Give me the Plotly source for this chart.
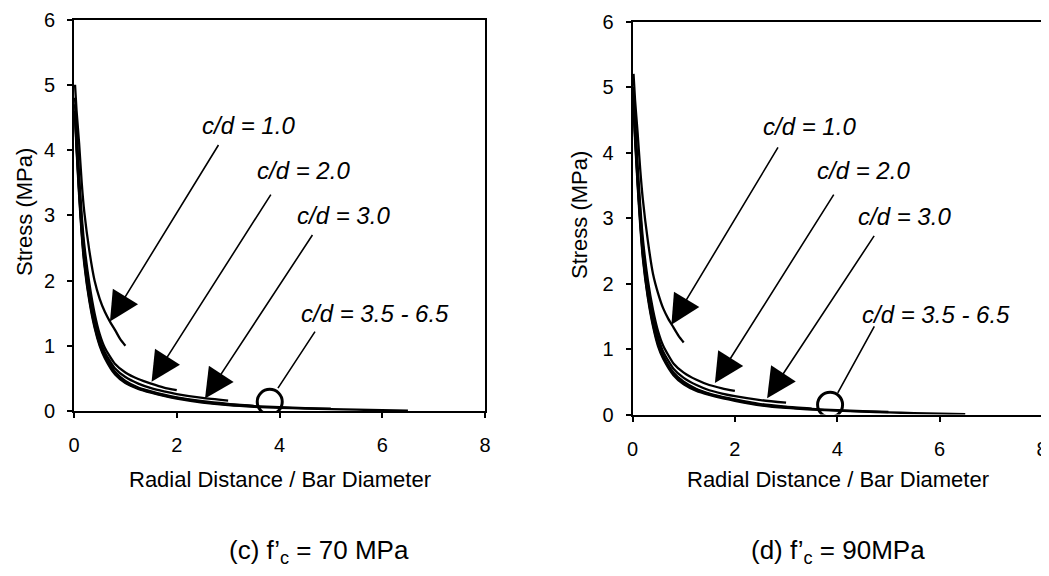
import plotly.graph_objects as go

# ---------------- data ----------------
X_CD10 = [0.02, 0.05, 0.1, 0.15, 0.2, 0.3, 0.4, 0.5, 0.6, 0.7, 0.8, 0.9, 1.0]
X_CD20 = [0.02, 0.05, 0.1, 0.15, 0.2, 0.3, 0.4, 0.5, 0.6, 0.8, 1.0, 1.25, 1.5, 1.75, 2.0]
X_CD30 = X_CD20 + [2.5, 3.0]
X_CD35 = X_CD30 + [3.5]
X_CD50 = X_CD35 + [4.0, 4.5, 5.0]
X_CD65 = X_CD50 + [5.5, 6.0, 6.5]

# (c) f'c = 70 MPa
L_CD10 = [5.0, 4.6, 4.1, 3.5, 3.05, 2.45, 2.0, 1.72, 1.52, 1.37, 1.24, 1.1, 1.0]
L_CD20 = [4.8, 4.3, 3.6, 3.0, 2.55, 1.95, 1.5, 1.18, 0.97, 0.72, 0.59, 0.49, 0.42, 0.36, 0.32]
L_CD30 = [4.7, 4.2, 3.5, 2.9, 2.45, 1.85, 1.42, 1.1, 0.9, 0.65, 0.52, 0.42, 0.35, 0.3, 0.26, 0.2, 0.16]
L_CD35 = [4.6, 4.1, 3.4, 2.8, 2.35, 1.75, 1.35, 1.05, 0.85, 0.6, 0.46, 0.36, 0.3, 0.25, 0.21, 0.15, 0.11, 0.08]
L_CD50 = [4.55, 4.05, 3.35, 2.75, 2.3, 1.71, 1.31, 1.02, 0.83, 0.58, 0.44, 0.35, 0.29, 0.24, 0.2, 0.14, 0.1,
          0.075, 0.06, 0.045, 0.035]
L_CD65 = [4.5, 4.0, 3.3, 2.7, 2.25, 1.68, 1.28, 1.0, 0.81, 0.56, 0.43, 0.34, 0.28, 0.23, 0.19, 0.13, 0.09,
          0.065, 0.05, 0.038, 0.028, 0.02, 0.012, 0.005]

# (d) f'c = 90 MPa
R_CD10 = [5.2, 4.8, 4.3, 3.75, 3.3, 2.65, 2.15, 1.85, 1.62, 1.46, 1.33, 1.2, 1.1]
R_CD20 = [5.0, 4.5, 3.8, 3.2, 2.7, 2.05, 1.6, 1.27, 1.05, 0.78, 0.64, 0.53, 0.45, 0.4, 0.36]
R_CD30 = [4.9, 4.4, 3.7, 3.1, 2.6, 1.95, 1.5, 1.18, 0.96, 0.7, 0.56, 0.45, 0.37, 0.32, 0.28, 0.22, 0.18]
R_CD35 = [4.8, 4.3, 3.6, 3.0, 2.5, 1.85, 1.42, 1.1, 0.9, 0.64, 0.5, 0.39, 0.32, 0.27, 0.23, 0.16, 0.12, 0.09]
R_CD50 = [4.75, 4.25, 3.55, 2.95, 2.45, 1.81, 1.38, 1.07, 0.87, 0.62, 0.48, 0.38, 0.31, 0.26, 0.22, 0.15, 0.11,
          0.085, 0.065, 0.05, 0.038]
R_CD65 = [4.7, 4.2, 3.5, 2.9, 2.4, 1.78, 1.35, 1.04, 0.85, 0.6, 0.46, 0.36, 0.3, 0.25, 0.21, 0.14, 0.1,
          0.075, 0.058, 0.044, 0.032, 0.022, 0.013, 0.005]

X_TICKS = [0, 2, 4, 6, 8]
Y_TICKS = [0, 1, 2, 3, 4, 5, 6]

LABELS = ["c/d = 1.0", "c/d = 2.0", "c/d = 3.0", "c/d = 3.5 - 6.5"]
# label centres (data coords) per panel
L_LABEL_XY = [(3.40, 4.38), (4.47, 3.69), (5.25, 3.00), (5.86, 1.50)]
R_LABEL_XY = [(3.45, 4.40), (4.51, 3.72), (5.31, 3.03), (5.92, 1.53)]
# arrows: (tail x, tail y, head x, head y)
L_ARROWS = [(2.83, 4.10, 0.70, 1.37), (3.85, 3.34, 1.51, 0.45), (4.66, 2.72, 2.55, 0.19)]
R_ARROWS = [(2.86, 4.10, 0.76, 1.37), (3.95, 3.38, 1.61, 0.48), (4.74, 2.75, 2.63, 0.25)]
L_POINTER = (4.71, 1.24, 3.97, 0.35)
R_POINTER = (4.74, 1.37, 4.01, 0.33)
L_CIRCLE = (3.81, 0.14)
R_CIRCLE = (3.86, 0.15)

CAPTIONS = ["(c) f\u2019<sub>c</sub> = 70 MPa", "(d) f\u2019<sub>c</sub> = 90MPa"]

FONT = "Liberation Sans, Arial, sans-serif"
OFF = 8  # page body margin of the browser
W, H = 1049 - OFF, 576 - 2 * OFF


def px(x):
    return (x - OFF) / W


def py(y):
    return (H - (y - OFF)) / H


fig = go.Figure()

panels = [
    ("x", "y", [L_CD10, L_CD20, L_CD30, L_CD35, L_CD50, L_CD65], L_LABEL_XY, L_ARROWS, L_POINTER, L_CIRCLE),
    ("x2", "y2", [R_CD10, R_CD20, R_CD30, R_CD35, R_CD50, R_CD65], R_LABEL_XY, R_ARROWS, R_POINTER, R_CIRCLE),
]
xs = [X_CD10, X_CD20, X_CD30, X_CD35, X_CD50, X_CD65]

annotations = []
for xa, ya, curves, lab_xy, arrows, pointer, circ in panels:
    for xv, yv in zip(xs, curves):
        fig.add_trace(go.Scatter(x=xv, y=yv, xaxis=xa, yaxis=ya, mode="lines",
                                 line=dict(color="black", width=2.3, shape="spline", smoothing=0.6),
                                 showlegend=False, hoverinfo="skip"))
    fig.add_trace(go.Scatter(x=[circ[0]], y=[circ[1]], xaxis=xa, yaxis=ya, mode="markers",
                             marker=dict(symbol="circle-open", size=25, color="black",
                                         line=dict(width=3, color="black")),
                             showlegend=False, hoverinfo="skip"))
    for txt, (tx, ty) in zip(LABELS, lab_xy):
        annotations.append(dict(x=tx, y=ty, xref=xa, yref=ya, text="<i>" + txt + "</i>",
                                xanchor="center", yanchor="middle",
                                showarrow=False, font=dict(family=FONT, size=24, color="black")))
    for (ax_, ay_, hx, hy) in arrows:
        annotations.append(dict(x=hx, y=hy, ax=ax_, ay=ay_, xref=xa, yref=ya, axref=xa, ayref=ya,
                                text="", showarrow=True, arrowhead=2, arrowsize=3.7,
                                arrowwidth=1.6, arrowcolor="black"))
    annotations.append(dict(x=pointer[2], y=pointer[3], ax=pointer[0], ay=pointer[1], xref=xa, yref=ya,
                            axref=xa, ayref=ya, text="", showarrow=True, arrowhead=0,
                            arrowwidth=1.6, arrowcolor="black"))

# axis titles and captions (paper coords)
for cx in [279.5, 838]:
    annotations.append(dict(x=px(cx), y=py(479), xref="paper", yref="paper",
                            xanchor="center", yanchor="middle",
                            text="Radial Distance / Bar Diameter", showarrow=False,
                            font=dict(family=FONT, size=22, color="black")))
for cx, cy in [(24, 212), (579, 215)]:
    annotations.append(dict(x=px(cx), y=py(cy), xref="paper", yref="paper",
                            xanchor="center", yanchor="middle",
                            text="Stress (MPa)", showarrow=False, textangle=-90,
                            font=dict(family=FONT, size=22, color="black")))
for cx, cap in zip([319, 838], CAPTIONS):
    annotations.append(dict(x=px(cx), y=py(551), xref="paper", yref="paper",
                            xanchor="center", yanchor="middle",
                            text=cap, showarrow=False,
                            font=dict(family=FONT, size=26, color="black")))

axis_common = dict(showline=True, mirror=True, linecolor="black", linewidth=2,
                   ticks="outside", ticklen=5, tickwidth=1.5, tickcolor="black",
                   showgrid=False, zeroline=False, automargin=False,
                   ticklabeloverflow="allow",
                   tickfont=dict(family=FONT, size=20, color="black"))

fig.update_layout(
    width=W, height=H,
    margin=dict(l=0, r=0, t=0, b=0, autoexpand=False),
    paper_bgcolor="white", plot_bgcolor="white",
    showlegend=False,
    annotations=annotations,
    xaxis=dict(domain=[px(74), px(485)], range=[0, 8], tickvals=X_TICKS, anchor="y",
               ticklabelstandoff=10, **axis_common),
    yaxis=dict(domain=[py(411), py(19.5)], range=[0, 6], tickvals=Y_TICKS, anchor="x",
               ticklabelstandoff=8, **axis_common),
    xaxis2=dict(domain=[px(632.5), px(1042)], range=[0, 8], tickvals=X_TICKS, anchor="y2",
                ticklabelstandoff=10, **axis_common),
    yaxis2=dict(domain=[py(414.5), py(21.5)], range=[0, 6], tickvals=Y_TICKS, anchor="x2",
                ticklabelstandoff=8, **axis_common),
)

fig.write_html("out.html")
